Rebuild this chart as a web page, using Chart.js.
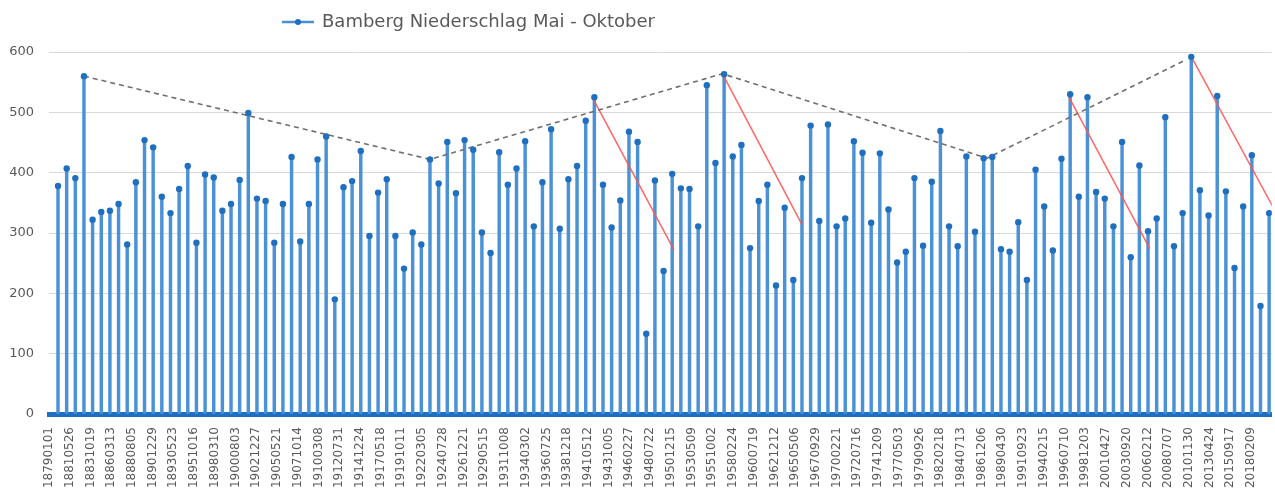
<!DOCTYPE html>
<html>
<head>
<meta charset="utf-8">
<script src="https://cdn.jsdelivr.net/npm/chart.js@4"></script>
<style>
html,body{margin:0;padding:0;background:#ffffff;}
#wrap{width:1275px;height:497px;position:relative;}
</style>
</head>
<body>
<div id="wrap"><canvas id="c" width="1275" height="497"></canvas></div>
<script>
// ---------------- data ----------------
const seriesName = 'Bamberg Niederschlag Mai - Oktober';
const firstYear = 1879;
const rainfall = [
  378, 407, 391, 560, 322, 335, 337, 348, 281, 384, 454, 442, 360, 333, 373, 411, 284, 397, 392, 337,
  348, 388, 499, 357, 353, 284, 348, 426, 286, 348, 422, 460, 190, 376, 386, 436, 295, 367, 389, 295,
  241, 301, 281, 422, 382, 451, 366,
  454, 438, 301, 267, 434, 380, 407, 452, 311, 384, 472, 307, 389, 411, 486, 525, 380, 309, 354, 468,
  451, 133, 387, 237, 398, 374, 373, 311, 545, 416, 563, 427, 446, 275, 353, 380, 213, 342, 222, 391,
  478, 320, 480, 311, 324, 452, 433,
  317, 432, 339, 251, 269, 391, 279, 385, 469, 311, 278, 427, 302, 424, 426, 273, 269, 318, 222, 405,
  344, 271, 423, 530, 360, 525, 368, 357, 311, 451, 260, 412, 303, 324, 492, 278, 333, 592, 371, 329,
  527, 369, 242, 344, 429, 179, 333
];
const tickLabels = [
  '18790101','18810526','18831019','18860313','18880805','18901229','18930523','18951016','18980310',
  '19000803','19021227','19050521','19071014','19100308','19120731','19141224','19170518','19191011',
  '19220305','19240728','19261221','19290515','19311008','19340302','19360725','19381218','19410512',
  '19431005','19460227','19480722','19501215','19530509','19551002','19580224','19600719','19621212',
  '19650506','19670929','19700221','19720716','19741209','19770503','19790926','19820218','19840713',
  '19861206','19890430','19910923','19940215','19960710','19981203','20010427','20030920','20060212',
  '20080707','20101130','20130424','20150917','20180209'
];
const tickStepDays = 876;
const yTickValues = [0, 100, 200, 300, 400, 500, 600];

// grey dashed envelope through the peaks / troughs
const envelopeYears  = [1882, 1922, 1955.8, 1986.4, 2009.1];
const envelopeValues = [560, 422, 564, 424, 585];
// red decline lines
const declineStartYears  = [1940.8, 1955.8, 1995.8, 2010.1];
const declineStartValues = [524, 564, 527, 590];
const declineEndYears    = [1950.2, 1965.0, 2005.2, 2019.6];
const declineEndValues   = [272, 314, 274, 339];

// ---------------- helpers ----------------
const DAY = 86400000;
const epoch = Date.UTC(1879, 0, 1);
function dayOf(yearPos) {
  const y = Math.floor(yearPos);
  const f = yearPos - y;
  return (Date.UTC(y, 10, 1) - epoch) / DAY + f * 365.25;
}
const points = rainfall.map((v, i) => ({ x: dayOf(firstYear + i), y: v }));
const envelope = envelopeYears.map((yr, i) => ({ x: dayOf(yr), y: envelopeValues[i] }));
const declines = declineStartYears.map((yr, i) => [
  { x: dayOf(yr), y: declineStartValues[i] },
  { x: dayOf(declineEndYears[i]), y: declineEndValues[i] }
]);

// legend marker image: line with a dot
const mark = document.createElement('canvas');
mark.width = 32; mark.height = 8;
(function () {
  const g = mark.getContext('2d');
  g.strokeStyle = '#4a8fd0'; g.lineWidth = 2.5;
  g.beginPath(); g.moveTo(0, 4); g.lineTo(32, 4); g.stroke();
  g.fillStyle = '#1f6fc0';
  g.beginPath(); g.arc(16, 4, 3, 0, Math.PI * 2); g.fill();
})();

const LEGEND_H = 52;
const LEGEND_X = 283;
const legendPlacer = {
  id: 'legendPlacer',
  beforeLayout(chart) {
    const lg = chart.legend;
    if (lg && !lg._wrappedFit) {
      const f = lg.fit;
      lg.fit = function () { f.call(this); this.height = LEGEND_H; };
      lg._wrappedFit = true;
    }
  },
  afterLayout(chart) {
    const lg = chart.legend;
    if (!lg) return;
    const dx = LEGEND_X - (lg.left + lg.options.labels.padding);
    lg.left += dx; lg.right += dx;
  }
};

const datasets = [
  {
    type: 'line', label: seriesName, data: points, showLine: false,
    pointRadius: 3.2, pointBackgroundColor: '#1f6fc0', pointBorderWidth: 0,
    pointHoverRadius: 3.2, order: 0
  },
  {
    type: 'line', label: 'envelope', data: envelope,
    borderColor: '#6f6f6f', borderWidth: 1.6, borderDash: [5, 4],
    pointRadius: 0, fill: false, order: 1
  }
];
declines.forEach((d, i) => datasets.push({
  type: 'line', label: 'decline' + i, data: d,
  borderColor: 'rgba(255,85,85,0.9)', borderWidth: 1.5,
  pointRadius: 0, fill: false, order: 1
}));
datasets.push({
  type: 'bar', label: 'stems', data: points,
  backgroundColor: '#4a92d5', barThickness: 2.8, order: 2
});

new Chart(document.getElementById('c'), {
  type: 'bar',
  data: { datasets },
  plugins: [legendPlacer],
  options: {
    responsive: false,
    animation: false,
    devicePixelRatio: 1,
    layout: { padding: 0 },
    plugins: {
      tooltip: { enabled: false },
      legend: {
        display: true,
        position: 'top',
        align: 'start',
        labels: {
          filter: (item) => item.datasetIndex === 0,
          usePointStyle: true,
          pointStyle: mark,
          pointStyleWidth: 30,
          padding: 13,
          color: '#595959',
          font: { family: 'DejaVu Sans', size: 18 }
        }
      }
    },
    scales: {
      x: {
        type: 'linear',
        offset: false,
        min: -76,
        max: 51551,
        grid: { display: false, drawTicks: false, offset: false },
        border: { display: true, color: '#1c6fc1', width: 5 },
        ticks: {
          stepSize: tickStepDays,
          includeBounds: false,
          autoSkip: false,
          minRotation: 90,
          maxRotation: 90,
          padding: 13,
          color: '#595959',
          font: { family: 'DejaVu Sans', size: 12 },
          callback: (v) => {
            const k = Math.round(v / tickStepDays);
            return tickLabels[k] !== undefined ? tickLabels[k] : '';
          }
        },
        afterFit(s) { s.height = 83; s.paddingLeft = 0; s.paddingRight = 0; }
      },
      y: {
        min: yTickValues[0],
        max: yTickValues[yTickValues.length - 1],
        grid: { color: '#d9d9d9', lineWidth: 1, drawTicks: false },
        border: { display: false },
        ticks: {
          stepSize: yTickValues[1] - yTickValues[0],
          padding: 15,
          color: '#595959',
          font: { family: 'DejaVu Sans', size: 13 }
        },
        afterFit(s) { s.width = 49; }
      }
    }
  }
});
</script>
</body>
</html>
